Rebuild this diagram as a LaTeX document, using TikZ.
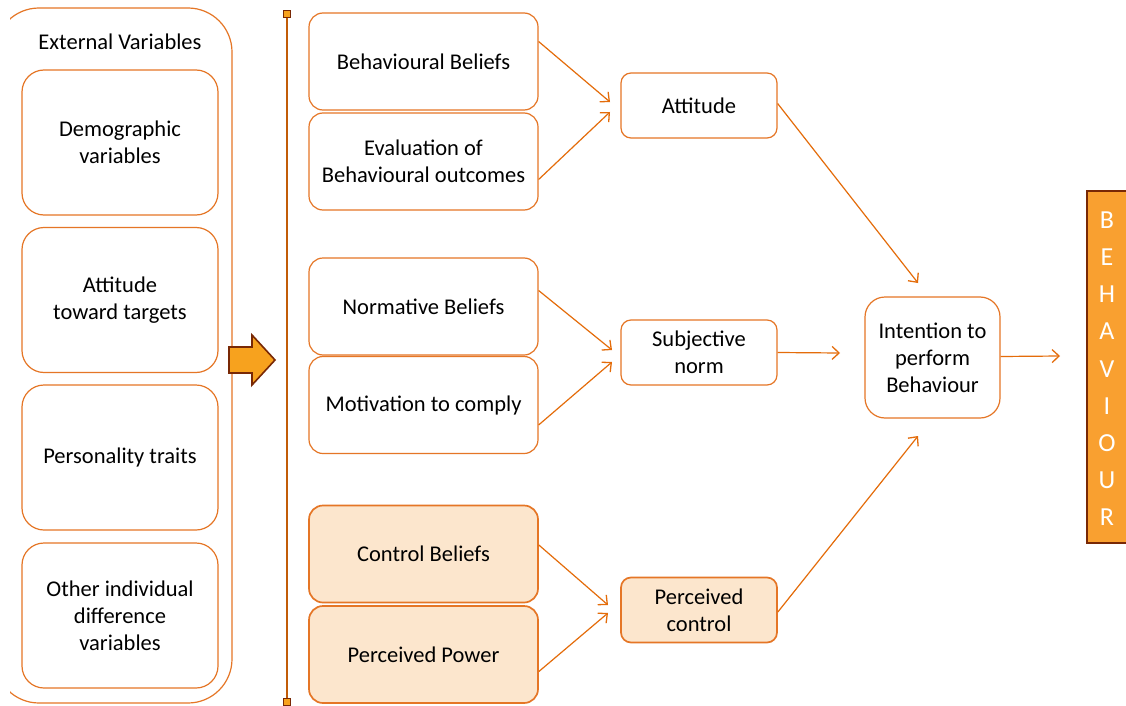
\documentclass[tikz,border=0pt]{standalone}
\usepackage{fontspec}
\setmainfont{Carlito}
\usetikzlibrary{arrows.meta,calc}
\definecolor{edgeorange}{RGB}{229,118,38}
\definecolor{lineorange}{RGB}{228,108,10}
\definecolor{peach}{RGB}{252,230,205}
\definecolor{barfill}{RGB}{249,160,48}
\definecolor{darkbrown}{RGB}{120,40,5}
\definecolor{blockfill}{RGB}{247,162,30}
\tikzset{
  box/.style={draw=edgeorange, line width=1.2pt, rounded corners=14pt, fill=white,
    align=center, inner sep=0pt, font=\fontsize{22.5}{27}\selectfont, text=black},
  extbox/.style={box, rounded corners=22pt, minimum width=196pt, minimum height=145pt},
  beliefbox/.style={box, minimum width=229pt, minimum height=97pt},
  midbox/.style={box, rounded corners=10pt, minimum width=156pt, minimum height=65pt},
  shaded/.style={fill=peach, line width=1.7pt},
  link/.style={draw=lineorange, line width=1.2pt, -{Straight Barb[length=7pt,width=13pt,line width=1.3pt]}},
  letter/.style={text=white, font=\fontsize{26}{26}\selectfont, inner sep=0pt}
}
\begin{document}
\begin{tikzpicture}[x=1pt,y=-1pt]
\useasboundingbox (0,0) rectangle (1126,706);
\fill[white] (0,0) rectangle (1126,706);

% outer frame of the external variables
\begin{scope}
  \clip (10,0) rectangle (260,706);
  \draw[edgeorange, line width=1.2pt, rounded corners=44pt] (-5,8) rectangle (232,703);
\end{scope}
\node[font=\fontsize{22.5}{27}\selectfont, text=black] (extitle) at (120,42) {External Variables};
\node[extbox] (dem)  at (120,142.5) {Demographic\\variables};
\node[extbox] (att2) at (120,300)   {Attitude\\toward targets};
\node[extbox] (pers) at (120,457.5) {Personality traits};
\node[extbox] (oth)  at (120,615.5) {Other individual\\difference\\variables};

% block arrow
\draw[darkbrown, line width=1.6pt, fill=blockfill, line join=miter]
  (229,347) -- (252,347) -- (252,335) -- (275,360) -- (252,385) -- (252,373) -- (229,373) -- cycle;

% vertical divider with end markers
\node[draw=darkbrown, fill=blockfill, minimum size=7pt, inner sep=0pt, line width=1pt] (topmark) at (287,14) {};
\node[draw=darkbrown, fill=blockfill, minimum size=7pt, inner sep=0pt, line width=1pt] (botmark) at (287,702) {};
\draw[lineorange!85!black, line width=1.3pt] (topmark) -- (botmark);

% belief boxes
\node[beliefbox] (bb) at (423.5,61.5)  {Behavioural Beliefs};
\node[beliefbox] (ev) at (423.5,161.5) {Evaluation of\\Behavioural outcomes};
\node[beliefbox] (nb) at (423.5,306.5) {Normative Beliefs};
\node[beliefbox] (mc) at (423.5,405)   {Motivation to comply};
\node[beliefbox, shaded] (cb) at (423.5,554)   {Control Beliefs};
\node[beliefbox, shaded] (pp) at (423.5,654.5) {Perceived Power};

% middle constructs
\node[midbox] (att) at (699,105.5) {Attitude};
\node[midbox] (sn)  at (699,352.5) {Subjective\\norm};
\node[midbox, shaded] (pc) at (699,610) {Perceived\\control};

% intention
\node[box, minimum width=135pt, minimum height=121pt, rounded corners=20pt] (it) at (932.5,357.5) {Intention to\\perform\\Behaviour};

% behaviour bar
\node[draw=darkbrown, fill=barfill, line width=1.8pt, minimum width=52pt, minimum height=352pt,
  inner sep=0pt, anchor=north west] (beh) at (1086,190) {};
\foreach \ch [count=\i from 0] in {B,E,H,A,V,I,O,U,R}
  \node[letter] (ch\i) at (1107,{220+37.2*\i}) {\ch};

% arrow tips
\coordinate (tAtt1) at (610,102);
\coordinate (tAtt2) at (610,112);
\coordinate (tSn1)  at (612,350);
\coordinate (tSn2)  at (612,362);
\coordinate (tPc1)  at (608,605);
\coordinate (tPc2)  at (608,613);
\coordinate (tItA)  at (918,283);
\coordinate (tItS)  at (840,353);
\coordinate (tItP)  at (918,436);
\coordinate (tBeh)  at (1060,356);

% connectors
\draw[link] ([yshift=20pt]bb.east) -- (tAtt1);
\draw[link] ([yshift=-18pt]ev.east) -- (tAtt2);
\draw[link] ([yshift=16pt]nb.east) -- (tSn1);
\draw[link] ([yshift=-20pt]mc.east) -- (tSn2);
\draw[link] ([yshift=9pt]cb.east) -- (tPc1);
\draw[link] ([yshift=-17pt]pp.east) -- (tPc2);
\draw[link] ([yshift=2pt]att.east) -- (tItA);
\draw[link] (sn.east) -- (tItS);
\draw[link] ([yshift=-2pt]pc.east) -- (tItP);
\draw[link] ([yshift=1pt]it.east) -- (tBeh);
\end{tikzpicture}
\end{document}
